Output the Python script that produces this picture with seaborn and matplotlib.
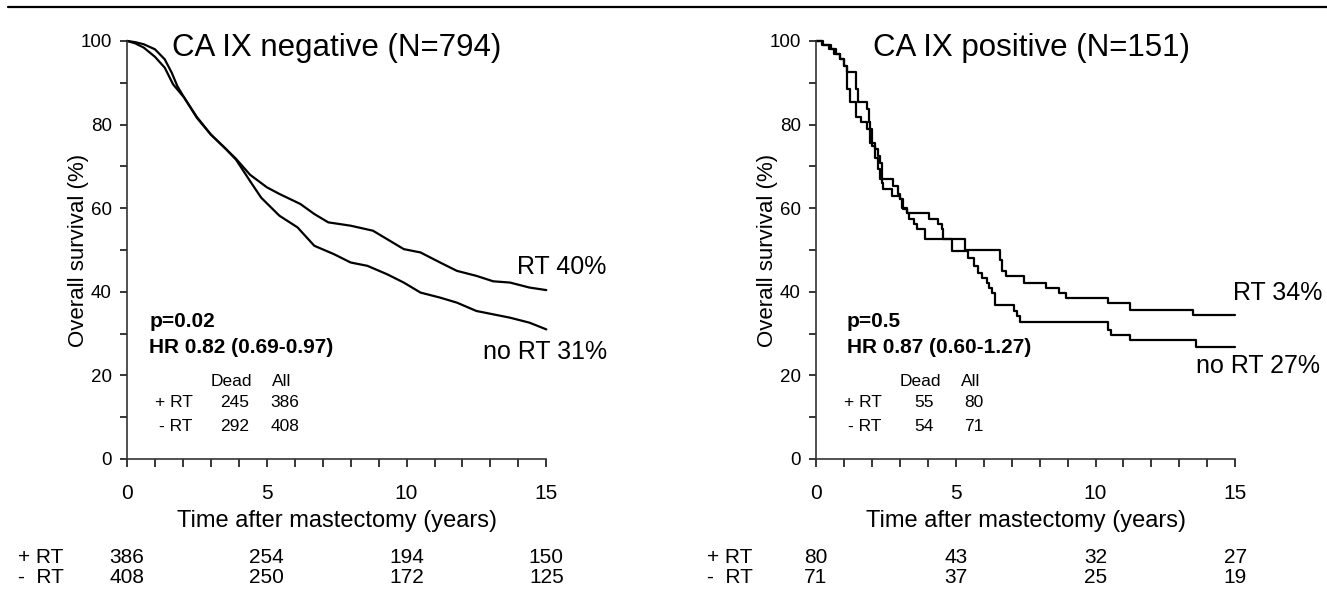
import pandas as pd
import matplotlib
matplotlib.use('Agg')
import matplotlib.pyplot as plt
import matplotlib.transforms as mtransforms
from matplotlib.lines import Line2D
from matplotlib.ticker import MultipleLocator
import seaborn as sns

# ---- CA IX negative ----
neg_rt_time = [0, 0.3, 0.6, 1.0, 1.35, 1.6, 1.8, 2.05, 2.5, 3.0, 3.5, 3.9, 4.4, 5.0, 5.45,
               6.2, 6.7, 7.2, 8.0, 8.8, 9.3, 9.9, 10.5, 11.2, 11.8, 12.5, 13.1, 13.7, 14.4, 15.0]
neg_rt_surv = [100, 99.7, 99.2, 98.0, 95.6, 92.4, 89.2, 86.4, 81.8, 77.6, 74.4, 71.8, 68.0, 65.0, 63.4,
               61.0, 58.6, 56.6, 55.8, 54.6, 52.6, 50.2, 49.4, 47.0, 45.0, 43.8, 42.5, 42.2, 41.0, 40.4]
neg_nort_time = [0, 0.3, 0.6, 1.0, 1.35, 1.65, 2.05, 2.5, 3.0, 3.5, 3.9, 4.4, 4.8, 5.45, 6.1,
                 6.7, 7.4, 8.0, 8.6, 9.3, 9.9, 10.5, 11.2, 11.8, 12.5, 13.1, 13.7, 14.4, 15.0]
neg_nort_surv = [100, 99.4, 98.4, 96.2, 93.6, 89.6, 86.4, 81.6, 77.6, 74.4, 71.6, 66.5, 62.5, 58.2, 55.4,
                 51.0, 49.0, 47.0, 46.2, 44.2, 42.2, 39.8, 38.6, 37.4, 35.4, 34.6, 33.8, 32.6, 31.0]

# ---- CA IX positive (step curves) ----
pos_rt_time = [0, 0.25, 0.55, 0.7, 0.85, 1.0, 1.1, 1.44, 1.5, 1.82, 1.88, 1.94, 2.11, 2.23, 2.29,
               2.35, 2.77, 2.95, 3.01, 3.07, 3.25, 4.03, 4.38, 4.5, 4.56, 5.34, 6.6, 6.67, 6.8,
               7.44, 8.22, 8.7, 8.94, 10.45, 11.25, 13.5, 15.0]
pos_rt_surv = [100, 99.0, 98.1, 96.9, 95.7, 94.1, 92.5, 88.5, 85.3, 83.7, 80.5, 75.7, 74.1, 72.5, 70.9,
               66.9, 65.3, 63.3, 62.1, 60.1, 58.9, 57.5, 56.1, 54.9, 52.5, 50.1, 47.7, 45.0, 43.7,
               42.1, 40.9, 39.7, 38.5, 37.3, 35.7, 34.5, 34.5]
pos_nort_time = [0, 0.2, 0.45, 0.65, 0.85, 1.0, 1.1, 1.22, 1.44, 1.6, 1.82, 2.0, 2.11, 2.23, 2.29,
                 2.35, 2.41, 2.71, 3.01, 3.13, 3.25, 3.31, 3.49, 3.61, 3.91, 4.86, 5.45, 5.64, 5.8,
                 5.94, 6.12, 6.2, 6.3, 6.42, 7.07, 7.2, 7.31, 10.45, 10.55, 11.25, 13.6, 15.0]
pos_nort_surv = [100, 99.0, 98.1, 96.9, 95.7, 94.1, 88.5, 85.3, 81.7, 80.5, 78.9, 74.9, 72.1, 69.3, 66.9,
                 66.1, 64.5, 62.9, 62.1, 59.7, 58.9, 57.3, 56.1, 54.9, 52.5, 49.7, 48.1, 46.1, 44.5,
                 43.3, 42.1, 40.9, 39.7, 36.9, 35.3, 34.1, 32.7, 30.9, 29.7, 28.5, 26.9, 26.9]

titles = ['CA IX negative (N=794)', 'CA IX positive (N=151)']
rt_labels = ['RT 40%', 'RT 34%']
nort_labels = ['no RT 31%', 'no RT 27%']
p_texts = ['p=0.02', 'p=0.5']
hr_texts = ['HR 0.82 (0.69-0.97)', 'HR 0.87 (0.60-1.27)']
dead = [[245, 292], [55, 54]]
total = [[386, 408], [80, 71]]
risk_times = [0, 5, 10, 15]
risk_rt = [[386, 254, 194, 150], [80, 43, 32, 27]]
risk_nort = [[408, 250, 172, 125], [71, 37, 25, 19]]

sns.set_style('ticks')
plt.rcParams['font.family'] = ['Liberation Sans', 'DejaVu Sans']
plt.rcParams['text.color'] = 'black'
plt.rcParams['axes.labelcolor'] = 'black'
plt.rcParams['xtick.color'] = 'black'
plt.rcParams['ytick.color'] = 'black'

fig = plt.figure(figsize=(13.27, 5.93), dpi=100)
ax1 = fig.add_axes([0.0957, 0.226, 0.316, 0.705])
ax2 = fig.add_axes([0.6149, 0.226, 0.316, 0.705])

curves = [
    (neg_rt_time, neg_rt_surv, neg_nort_time, neg_nort_surv, 'default'),
    (pos_rt_time, pos_rt_surv, pos_nort_time, pos_nort_surv, 'steps-post'),
]
rt_lab_pos = [(13.95, 45.9), (14.9, 39.8)]
nort_lab_pos = [(12.75, 25.6), (13.6, 22.3)]
title_x = [7.5, 7.7]
stat_x = [0.8, 1.1]

for i, ax in enumerate([ax1, ax2]):
    t1, s1, t2, s2, ds = curves[i]
    df1 = pd.DataFrame({'time': t1, 'surv': s1})
    df2 = pd.DataFrame({'time': t2, 'surv': s2})
    sns.lineplot(data=df1, x='time', y='surv', ax=ax, color='black', lw=1.6,
                 estimator=None, sort=False, drawstyle=ds, clip_on=False)
    sns.lineplot(data=df2, x='time', y='surv', ax=ax, color='black', lw=1.6,
                 estimator=None, sort=False, drawstyle=ds, clip_on=False)

    ax.set_xlim(0, 15)
    ax.set_ylim(0, 100)
    ax.xaxis.set_major_locator(MultipleLocator(5))
    ax.xaxis.set_minor_locator(MultipleLocator(1))
    ax.yaxis.set_major_locator(MultipleLocator(20))
    ax.yaxis.set_minor_locator(MultipleLocator(10))
    ax.tick_params(axis='x', which='both', direction='out', length=6, width=1.1,
                   labelsize=15, pad=12)
    ax.tick_params(axis='y', which='both', direction='out', length=5, width=1.1,
                   labelsize=13.5, pad=6)
    for sp in ['top', 'right']:
        ax.spines[sp].set_visible(False)
    for sp in ['left', 'bottom']:
        ax.spines[sp].set_linewidth(1.2)
        ax.spines[sp].set_color('#333333')

    ax.set_xlabel('Time after mastectomy (years)', fontsize=17)
    ax.xaxis.set_label_coords(0.5, -0.123)
    ax.set_ylabel('Overall survival (%)', fontsize=16)
    ax.yaxis.set_label_coords(-0.09, 0.5)

    ax.text(title_x[i], 96.5, titles[i], fontsize=22.5, ha='center', va='baseline')
    ax.text(rt_lab_pos[i][0], rt_lab_pos[i][1], rt_labels[i], fontsize=18, va='center')
    ax.text(nort_lab_pos[i][0], nort_lab_pos[i][1], nort_labels[i], fontsize=18, va='center')
    ax.text(stat_x[i], 32.8, p_texts[i], fontsize=15, fontweight='bold', va='center')
    ax.text(stat_x[i], 26.6, hr_texts[i], fontsize=15, fontweight='bold', va='center')

    # small dead / all table
    ax.text(3.75, 18.6, 'Dead', fontsize=12.5, ha='center', va='center')
    ax.text(5.55, 18.6, 'All', fontsize=12.5, ha='center', va='center')
    ax.text(2.35, 13.4, '+ RT', fontsize=12.5, ha='right', va='center')
    ax.text(2.35, 7.8, '- RT', fontsize=12.5, ha='right', va='center')
    ax.text(3.85, 13.4, str(dead[i][0]), fontsize=12.5, ha='center', va='center')
    ax.text(3.85, 7.8, str(dead[i][1]), fontsize=12.5, ha='center', va='center')
    ax.text(5.65, 13.4, str(total[i][0]), fontsize=12.5, ha='center', va='center')
    ax.text(5.65, 7.8, str(total[i][1]), fontsize=12.5, ha='center', va='center')

    # numbers at risk
    trans = mtransforms.blended_transform_factory(ax.transData, ax.transAxes)
    ax.text(-3.9, -0.236, '+ RT', fontsize=15, transform=trans, va='center')
    ax.text(-3.9, -0.283, '-  RT', fontsize=15, transform=trans, va='center')
    for j, tt in enumerate(risk_times):
        ax.text(tt, -0.236, str(risk_rt[i][j]), fontsize=15, transform=trans,
                ha='center', va='center')
        ax.text(tt, -0.283, str(risk_nort[i][j]), fontsize=15, transform=trans,
                ha='center', va='center')

fig.add_artist(Line2D([0.006, 1.0], [0.988, 0.988], transform=fig.transFigure,
                      color='black', lw=1.6))

fig.savefig('out.png', dpi=100)
